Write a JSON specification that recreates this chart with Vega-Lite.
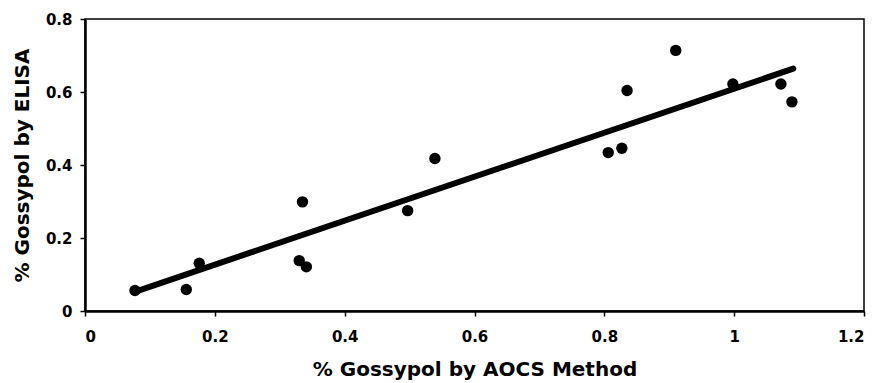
{
  "$schema": "https://vega.github.io/schema/vega-lite/v6.json",
  "width": 779,
  "height": 292,
  "autosize": {"type": "none"},
  "padding": {"left": 85, "top": 19, "right": 16, "bottom": 72},
  "background": "white",
  "config": {
    "view": {"stroke": "black", "strokeWidth": 1.5},
    "axis": {
      "grid": false,
      "domainColor": "black",
      "domainWidth": 2.5,
      "tickColor": "black",
      "tickWidth": 1.5,
      "tickSize": 5,
      "labelFont": "DejaVu Sans",
      "labelFontWeight": "bold",
      "labelFontSize": 15,
      "labelColor": "black",
      "titleFont": "DejaVu Sans",
      "titleFontWeight": "bold",
      "titleFontSize": 20,
      "titleColor": "black"
    }
  },
  "datasets": {
    "pts": [
      {"aocs": 0.077, "elisa": 0.056},
      {"aocs": 0.156, "elisa": 0.059},
      {"aocs": 0.176, "elisa": 0.131},
      {"aocs": 0.335, "elisa": 0.299},
      {"aocs": 0.330, "elisa": 0.138},
      {"aocs": 0.341, "elisa": 0.121},
      {"aocs": 0.497, "elisa": 0.275},
      {"aocs": 0.539, "elisa": 0.418},
      {"aocs": 0.806, "elisa": 0.434},
      {"aocs": 0.827, "elisa": 0.446},
      {"aocs": 0.835, "elisa": 0.604},
      {"aocs": 0.910, "elisa": 0.714},
      {"aocs": 0.998, "elisa": 0.622},
      {"aocs": 1.072, "elisa": 0.622},
      {"aocs": 1.089, "elisa": 0.573}
    ],
    "fit": [
      {"aocs": 0.079, "elisa": 0.054},
      {"aocs": 1.091, "elisa": 0.664}
    ]
  },
  "layer": [
    {
      "data": {"name": "fit"},
      "mark": {"type": "line", "color": "black", "strokeWidth": 6, "strokeCap": "round"},
      "encoding": {
        "x": {"field": "aocs", "type": "quantitative", "scale": {"domain": [0, 1.2]},
          "axis": {"title": "% Gossypol by AOCS Method", "values": [0, 0.2, 0.4, 0.6, 0.8, 1, 1.2], "format": "~g", "labelPadding": 13, "titlePadding": 15}},
        "y": {"field": "elisa", "type": "quantitative", "scale": {"domain": [0, 0.8]},
          "axis": {"title": "% Gossypol by ELISA", "values": [0, 0.2, 0.4, 0.6, 0.8], "format": "~g", "labelPadding": 8, "titlePadding": 13}}
      }
    },
    {
      "data": {"name": "pts"},
      "mark": {"type": "circle", "color": "black", "opacity": 1, "size": 130},
      "encoding": {
        "x": {"field": "aocs", "type": "quantitative"},
        "y": {"field": "elisa", "type": "quantitative"}
      }
    }
  ]
}
